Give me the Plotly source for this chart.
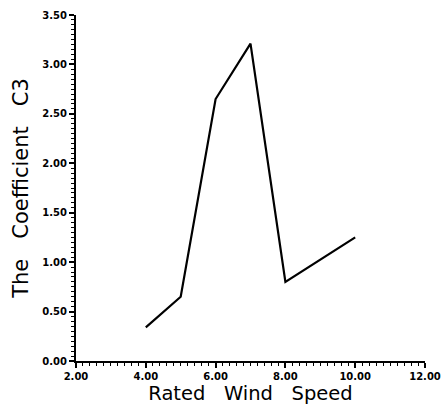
import plotly.graph_objects as go

wind_speed = [4, 5, 6, 7, 8, 10]
coef_c3 = [0.34, 0.65, 2.65, 3.21, 0.80, 1.25]

NB = "\u00a0"
x_title = "Rated" + NB * 3 + "Wind" + NB * 3 + "Speed"
y_title = "The" + NB * 3 + "Coefficient" + NB * 3 + "C3"

fig = go.Figure()
fig.add_trace(go.Scatter(x=wind_speed, y=coef_c3, mode="lines",
                         line=dict(color="black", width=2.2), showlegend=False))

tickfont = dict(family="DejaVu Sans", size=10, color="black", weight="bold")

fig.update_xaxes(range=[2, 12], tickvals=[2, 4, 6, 8, 10, 12], tickformat=".2f",
                 showline=True, linecolor="black", linewidth=2, automargin=False,
                 ticks="outside", ticklen=5, tickwidth=1.5, tickcolor="black",
                 minor=dict(dtick=0.2, ticks="outside", ticklen=3, tickwidth=1, tickcolor="black"),
                 showgrid=False, zeroline=False, tickfont=tickfont,
                 title=dict(text=x_title, font=dict(family="DejaVu Sans", size=19.5, color="black"),
                            standoff=5))
fig.update_yaxes(range=[0, 3.5], tickvals=[0, 0.5, 1, 1.5, 2, 2.5, 3, 3.5], tickformat=".2f",
                 showline=True, linecolor="black", linewidth=2, automargin=False,
                 ticks="outside", ticklen=5, tickwidth=1.5, tickcolor="black",
                 minor=dict(dtick=0.05, ticks="outside", ticklen=3, tickwidth=1, tickcolor="black"),
                 showgrid=False, zeroline=False, tickfont=tickfont,
                 title=dict(text=y_title, font=dict(family="DejaVu Sans", size=21, color="black"),
                            standoff=8))

fig.update_layout(width=443, height=405, margin=dict(l=76, r=18, t=15, b=44),
                  plot_bgcolor="white", paper_bgcolor="white")

fig.write_html("out.html")
